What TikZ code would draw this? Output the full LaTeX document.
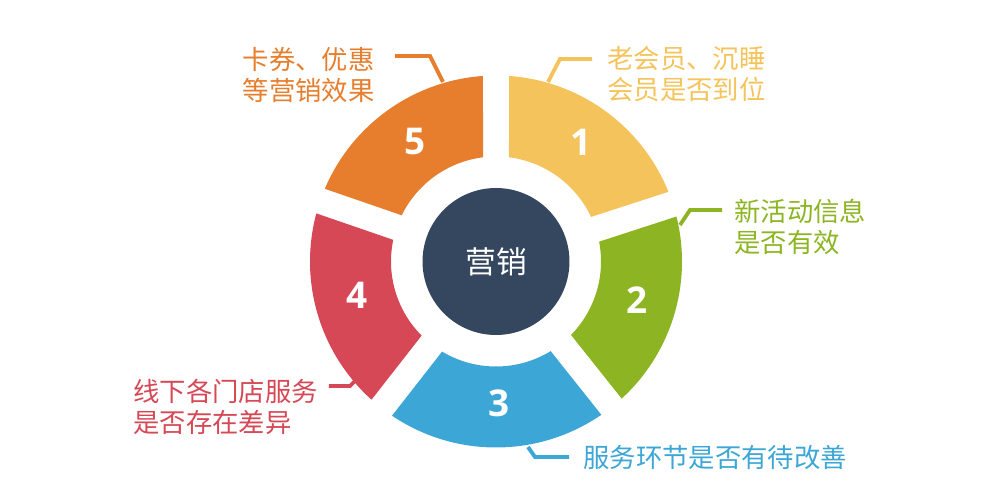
\documentclass[tikz,border=0pt]{standalone}
\usepackage{fontspec}
\newfontfamily\cjk{Noto Sans CJK SC}
\newfontfamily\numfont{Open Sans}
\usetikzlibrary{positioning}

\definecolor{segyellow}{HTML}{F5C35B}
\definecolor{seggreen}{HTML}{8DB523}
\definecolor{segblue}{HTML}{3CA6D6}
\definecolor{segred}{HTML}{D64855}
\definecolor{segorange}{HTML}{E67E2E}
\definecolor{coredark}{HTML}{34475E}

% ring piece between two gap angles
\newcommand{\ringseg}[3]{%
  \fill[#3] ({#1+4.01}:186) arc[start angle=#1+4.01, end angle=#2-4.01, radius=186]
    -- ({#2-7.11}:105) arc[start angle=#2-7.11, end angle=#1+7.11, radius=105] -- cycle;}

\begin{document}
\begin{tikzpicture}[x=0.02cm, y=0.02cm,
    num/.style={text=white, font=\numfont\bfseries\fontsize{21}{25}\selectfont, inner sep=0pt},
    lbl/.style={align=left, inner sep=0pt, font=\cjk\fontsize{15}{18}\selectfont},
    lead/.style={line width=2.2pt, line join=miter}]
    \useasboundingbox (-496,-238.5) rectangle (504,261.5);

    \ringseg{18}{90}{segyellow}
    \ringseg{-51.5}{18}{seggreen}
    \ringseg{-128}{-51.5}{segblue}
    \ringseg{161}{232}{segred}
    \ringseg{90}{161}{segorange}

    \node[circle, fill=coredark, minimum size=2.94cm, inner sep=0pt, text=white,
          font=\cjk\fontsize{17.5}{20}\selectfont] (core) at (0,0) {营销};

    \node[num] (n1) at (85,119.5) {1};
    \node[num] (n2) at (141,-38.5) {2};
    \node[num] (n3) at (3,-141.5) {3};
    \node[num] (n4) at (-139,-33.5) {4};
    \node[num] (n5) at (-81,119.5) {5};

    \node[lbl, text=segyellow, anchor=west] (t1) at (111,187.5) {老会员、沉睡\\会员是否到位};
    \node[lbl, text=seggreen, anchor=west] (t2) at (238,34.5) {新活动信息\\是否有效};
    \node[lbl, text=segblue, anchor=west] (t3) at (87,-196.5) {服务环节是否有待改善};
    \node[lbl, text=segred, anchor=west] (t4) at (-363,-145.5) {线下各门店服务\\是否存在差异};
    \node[lbl, text=segorange, anchor=east] (t5) at (-121,186.5) {卡券、优惠\\等营销效果};

    % leaders
    \coordinate (a1) at (52,179.5);   \coordinate (b1) at (64,202.5);   \coordinate (c1) at (96,202.5);
    \coordinate (a2) at (184,36.5);   \coordinate (b2) at (194,51.5);   \coordinate (c2) at (226,51.5);
    \coordinate (a3) at (32,-185.5);  \coordinate (b3) at (39,-195.5);  \coordinate (c3) at (73,-195.5);
    \coordinate (a4) at (-141,-119.5);\coordinate (b4) at (-146,-124.5);\coordinate (c4) at (-167,-124.5);
    \coordinate (a5) at (-53,179.5);  \coordinate (b5) at (-66,205.5);  \coordinate (c5) at (-101,205.5);
    \draw[lead, segyellow] (a1) -- (b1) -- (c1);
    \draw[lead, seggreen] (a2) -- (b2) -- (c2);
    \draw[lead, segblue] (a3) -- (b3) -- (c3);
    \draw[lead, segred] (a4) -- (b4) -- (c4);
    \draw[lead, segorange] (a5) -- (b5) -- (c5);
\end{tikzpicture}
\end{document}
